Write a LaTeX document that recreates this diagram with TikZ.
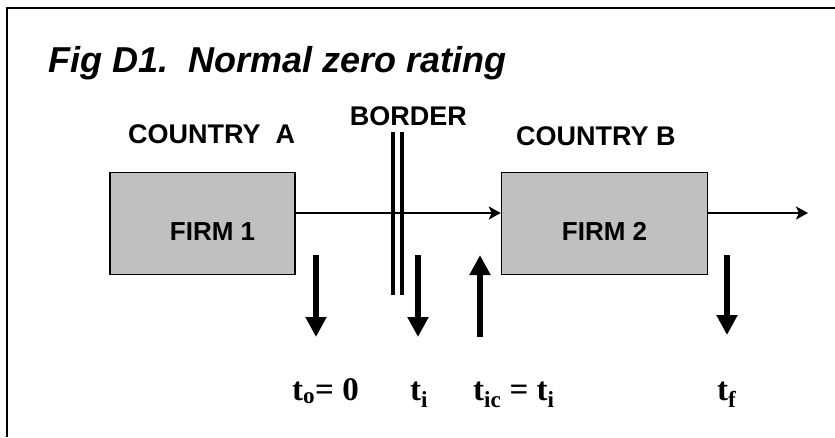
\documentclass[tikz,border=0pt]{standalone}
\usepackage{fontspec}
\setmainfont{Liberation Sans}
\newfontfamily\taxfont{Liberation Serif}
\usetikzlibrary{arrows.meta,positioning}
\definecolor{clFirm}{HTML}{C0C0C0}
\tikzset{
  firm/.style={rectangle, draw=black, line width=1.5pt, fill=clFirm,
               minimum height=102pt, inner sep=0pt},
  firmlabel/.style={inner sep=0pt, font=\fontsize{26}{30}\selectfont\bfseries},
  country/.style={anchor=base west, inner sep=0pt,
                  font=\fontsize{27}{31}\selectfont\bfseries},
  taxlabel/.style={anchor=base west, inner sep=0pt,
                   font=\taxfont\fontsize{33}{37}\selectfont\bfseries},
  goods/.style={-{Stealth[length=12pt,width=13pt,inset=3pt]}, line width=2.5pt},
  taxflow/.style={-{Triangle[length=20pt,width=20pt]}, line width=6.5pt},
  borderline/.style={line width=4pt},
}

\begin{document}
\begin{tikzpicture}[x=1pt, y=-1pt]
  \useasboundingbox (0,0) rectangle (835,437);
  % frame
  \draw[line width=1.5pt] (835,8) -- (7,8) -- (7,437);
  \node[anchor=base west, inner sep=0pt, font=\fontsize{36}{40}\selectfont\bfseries\itshape]
    (title) at (48,72) {Fig D1.\ \ Normal zero rating};

  \node[firm, minimum width=185pt] (f1) at (202.5,223.5) {};
  \node[firm, minimum width=206pt, right=205pt of f1] (f2) {};
  \node[firmlabel] (f1txt) at ([xshift=10pt,yshift=-8pt]f1.center) {FIRM 1};
  \node[firmlabel] (f2txt) at ([yshift=-8pt]f2.center) {FIRM 2};

  \node[country] (cA) at (128,143) {COUNTRY\ \ A};
  \node[country] (cB) at (516,145) {COUNTRY B};
  \node[country, anchor=base east] (bd) at (467,125) {BORDER};

  % border
  \coordinate (b1) at (393,132); \coordinate (b2) at (393,295);
  \coordinate (b3) at (402,132); \coordinate (b4) at (402,295);
  \draw[borderline] (b1) -- (b2);
  \draw[borderline] (b3) -- (b4);

  % goods
  \coordinate (out) at (808,213);
  \draw[goods] ([yshift=10.5pt]f1.east) -- ([yshift=10.5pt]f2.west);
  \draw[goods] ([yshift=10.5pt]f2.east) -- (out);

  % taxes
  \node[taxlabel] (to) at (292,400) {t\textsubscript{o}= 0};
  \node[taxlabel] (ti) at (410,400) {t\textsubscript{i}};
  \node[taxlabel] (tic) at (473,400) {t\textsubscript{ic} = t\textsubscript{i}};
  \node[taxlabel] (tf) at (717,400) {t\textsubscript{f}};
  \coordinate (a1) at (316,255); \coordinate (a1e) at (316,337);
  \coordinate (a2) at (418,255); \coordinate (a2e) at (418,337);
  \coordinate (a3) at (480,337); \coordinate (a3e) at (480,255);
  \coordinate (a4) at (727,255); \coordinate (a4e) at (727,335);
  \draw[taxflow] (a1) -- (a1e);
  \draw[taxflow] (a2) -- (a2e);
  \draw[taxflow] (a3) -- (a3e);
  \draw[taxflow] (a4) -- (a4e);
\end{tikzpicture}
\end{document}
